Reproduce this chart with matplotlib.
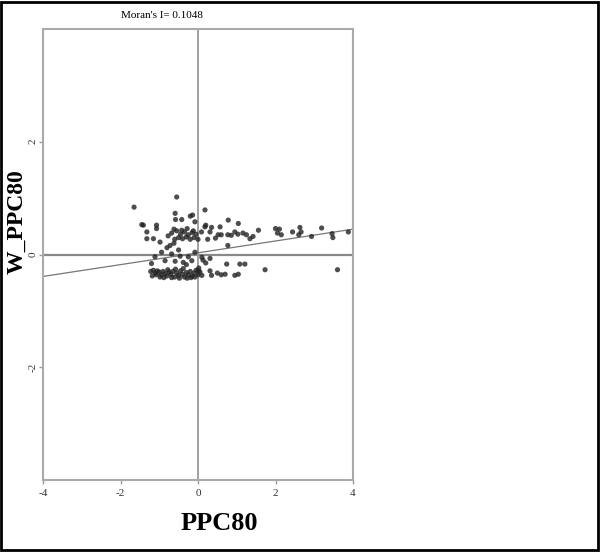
import matplotlib
matplotlib.use("Agg")
import matplotlib.pyplot as plt
from matplotlib.patches import Rectangle

plt.rcParams['font.family'] = ['Liberation Serif', 'DejaVu Serif']
plt.rcParams['axes.unicode_minus'] = False

# Moran scatterplot: PPC80 vs spatial lag W_PPC80
moran_i = 0.1048
intercept = 0.03

# dense lower band
x_low = [-1.22, -1.15, -1.1, -1.05, -1.0, -0.95, -0.9, -0.85, -0.8, -0.75, -0.7, -0.65, -0.6,
         -0.55, -0.5, -0.45, -0.4, -0.35, -0.3, -0.25, -0.2, -0.15, -0.1, -0.05, 0.0, 0.05,
         -1.18, -1.08, -0.98, -0.88, -0.78, -0.68, -0.58, -0.48, -0.38, -0.28, -0.18, -0.08, 0.02, 0.1,
         0.01, 0.31, 0.35, 0.7, 0.74, 0.95, 1.04, 1.08, 1.21, 0.5, 0.6, 1.73, 3.6]
y_low = [-0.30, -0.28, -0.33, -0.29, -0.31, -0.36, -0.30, -0.34, -0.38, -0.31, -0.35, -0.30, -0.40,
         -0.33, -0.37, -0.29, -0.35, -0.40, -0.32, -0.36, -0.30, -0.38, -0.33, -0.28, -0.36, -0.31,
         -0.38, -0.36, -0.40, -0.41, -0.27, -0.41, -0.26, -0.42, -0.25, -0.42, -0.41, -0.40, -0.24, -0.37,
         -0.29, -0.29, -0.37, -0.35, -0.17, -0.37, -0.35, -0.17, -0.17, -0.33, -0.36, -0.27, -0.27]

# points around the zero line
x_mid = [-1.11, -0.94, -0.85, -0.68, -0.59, -0.46, -0.38, -0.25, -0.16, -0.08, 0.1, 0.13, 0.31,
         -0.98, -0.8, -0.72, -1.2, -0.5, -0.3, 0.2, -0.62, 0.77]
y_mid = [-0.04, 0.04, -0.11, 0.01, -0.12, -0.03, -0.14, -0.04, -0.11, 0.04, -0.05, -0.1, -0.07,
         0.22, 0.12, 0.16, -0.16, 0.08, -0.18, -0.15, 0.2, 0.16]

# upper band
x_up = [-1.41, -1.32, -1.32, -1.15, -1.07, -1.07, -0.77, -0.68, -0.6, -0.55, -0.5, -0.45, -0.4,
        -0.35, -0.3, -0.25, -0.2, -0.15, -0.1, -0.05, 0.09, 0.31, 0.52, 0.6, 0.77, 0.86, 0.95,
        1.03, 1.16, 1.25, 1.42, 0.18, 0.35, 0.57, 0.0, 0.25, 0.45, -0.62, -0.42, -0.28, -0.12]
y_up = [0.52, 0.40, 0.28, 0.28, 0.52, 0.46, 0.33, 0.38, 0.27, 0.42, 0.30, 0.36, 0.28, 0.40,
        0.31, 0.35, 0.27, 0.39, 0.30, 0.36, 0.40, 0.40, 0.35, 0.35, 0.35, 0.34, 0.40, 0.36,
        0.38, 0.35, 0.32, 0.49, 0.48, 0.49, 0.27, 0.27, 0.29, 0.45, 0.43, 0.46, 0.42]

# top outliers
x_top = [-1.65, -0.55, 0.18, -1.45, -0.59, -0.58, -0.42, -0.2, -0.14, -0.08, 0.78, 1.04, 0.2]
y_top = [0.84, 1.02, 0.79, 0.53, 0.73, 0.62, 0.62, 0.68, 0.7, 0.58, 0.61, 0.55, 0.52]

# right tail
x_tail = [1.56, 1.34, 2.0, 2.05, 2.1, 2.15, 2.44, 2.63, 2.66, 2.6, 2.93, 3.19, 3.46, 3.48, 3.88]
y_tail = [0.43, 0.28, 0.46, 0.38, 0.45, 0.35, 0.40, 0.48, 0.40, 0.35, 0.32, 0.47, 0.37, 0.30, 0.40]

xs = x_low + x_mid + x_up + x_top + x_tail
ys = y_low + y_mid + y_up + y_top + y_tail

fig = plt.figure(figsize=(6, 5.52), dpi=100)
ax = fig.add_axes([43 / 600, 1 - 480 / 552, 310 / 600, 451 / 552])

ax.axhline(0, color='#888888', lw=1.6, zorder=1)
ax.axvline(0, color='#999999', lw=1.3, zorder=1)
ax.plot([-4, 4], [intercept - 4 * moran_i, intercept + 4 * moran_i], color='#777777', lw=0.9, zorder=2)
ax.scatter(xs, ys, s=14, color='#222222', alpha=0.8, edgecolors='none', zorder=3)

ax.set_xlim(-4, 4)
ax.set_ylim(-4, 4)
ax.set_xticks([-4, -2, 0, 2, 4])
ax.set_yticks([-2, 0, 2])
ax.tick_params(labelsize=8, length=3, color='#999999', width=1, labelcolor='#333333')
ax.tick_params(axis='y', pad=1)
for lab in ax.get_yticklabels():
    lab.set_rotation(90)
    lab.set_va('center')
for sp in ax.spines.values():
    sp.set_color('#aaaaaa')
    sp.set_linewidth(1.5)

fig.text(162 / 600, 1 - 16 / 552, "Moran's I= 0.1048", ha='center', va='center', fontsize=8)
fig.text(219 / 600, 1 - 524 / 552, 'PPC80', ha='center', va='center', fontsize=19, fontweight='bold')
fig.text(17 / 600, 1 - 222 / 552, 'W_PPC80', ha='center', va='center', fontsize=17,
         fontweight='bold', rotation=90)

fig.patches.append(Rectangle((0.002, 0.003), 0.995, 0.994, transform=fig.transFigure,
                             fill=False, edgecolor='black', lw=2))

fig.savefig('out.png', dpi=100)
